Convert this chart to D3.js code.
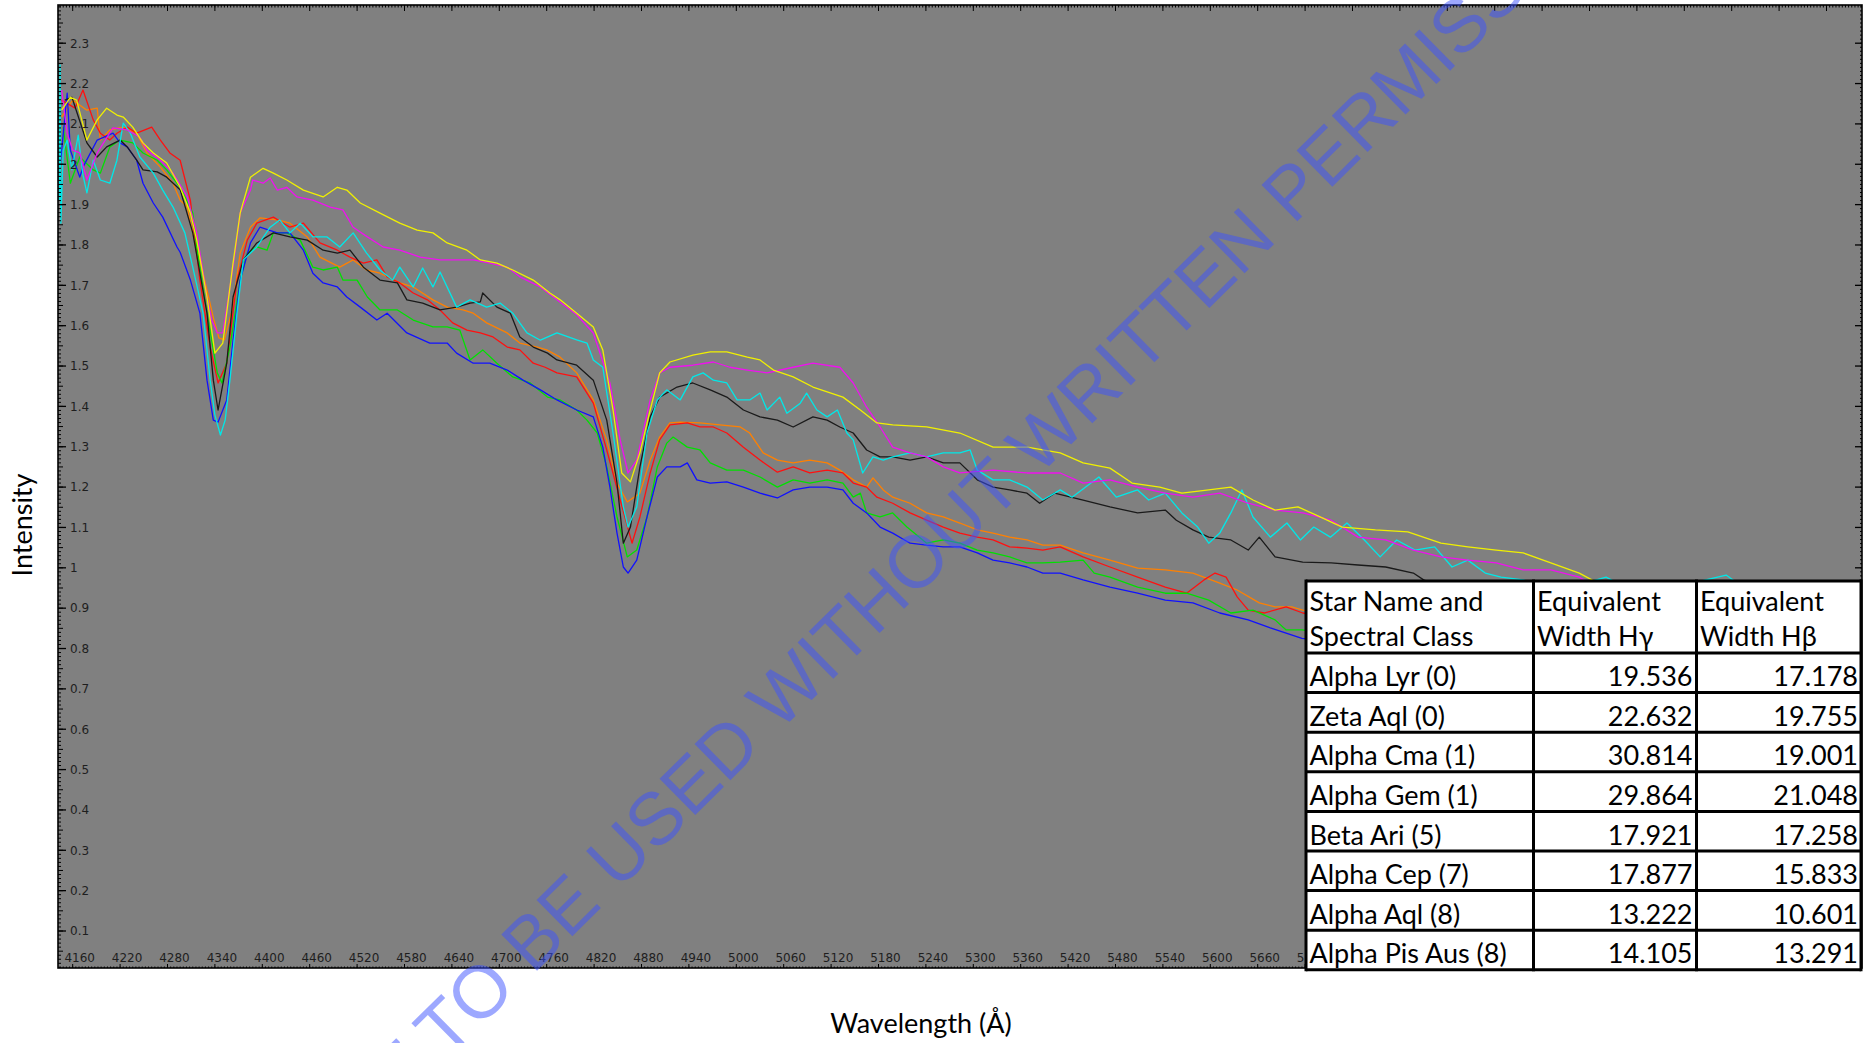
<!DOCTYPE html>
<html>
<head>
<meta charset="utf-8">
<script src="https://cdn.jsdelivr.net/npm/d3@7"></script>
<style>
  body { margin: 0; background: #fff; }
  svg { display: block; }
</style>
</head>
<body>
<script>
// spectra: [wavelength (Å), intensity]
const black = [[4150,2.159],[4159,2.166],[4178,2.053],[4191,2.018],[4203,2.043],[4220,2.060],[4229,2.043],[4241,2.010],[4249,1.986],[4267,1.981],[4279,1.968],[4296,1.937],[4312,1.830],[4330,1.631],[4338,1.465],[4344,1.391],[4355,1.507],[4363,1.671],[4376,1.763],[4393,1.805],[4414,1.830],[4435,1.820],[4457,1.812],[4477,1.787],[4495,1.780],[4511,1.787],[4528,1.745],[4549,1.713],[4571,1.706],[4583,1.664],[4603,1.656],[4625,1.639],[4646,1.646],[4663,1.656],[4676,1.659],[4679,1.681],[4697,1.646],[4714,1.631],[4726,1.572],[4743,1.547],[4761,1.532],[4773,1.515],[4798,1.502],[4819,1.465],[4836,1.366],[4849,1.210],[4857,1.061],[4866,1.101],[4878,1.250],[4891,1.374],[4903,1.423],[4925,1.448],[4945,1.458],[4967,1.441],[4988,1.423],[5009,1.391],[5030,1.374],[5052,1.366],[5072,1.349],[5097,1.374],[5115,1.366],[5131,1.349],[5148,1.334],[5165,1.292],[5182,1.275],[5198,1.275],[5220,1.267],[5241,1.275],[5262,1.260],[5283,1.260],[5305,1.218],[5325,1.200],[5346,1.193],[5368,1.185],[5384,1.160],[5403,1.185],[5439,1.168],[5473,1.151],[5508,1.136],[5543,1.143],[5557,1.118],[5578,1.094],[5598,1.076],[5626,1.069],[5648,1.044],[5662,1.076],[5682,1.027],[5717,1.014],[5753,1.012],[5787,1.007],[5822,1.002],[5857,0.987],[5870,0.970],[5890,0.955]];

const blue = [[4144,1.993],[4153,2.176],[4157,2.035],[4169,1.968],[4173,1.993],[4191,2.060],[4211,2.077],[4220,2.053],[4229,2.043],[4241,2.010],[4249,1.953],[4262,1.904],[4274,1.869],[4292,1.795],[4296,1.782],[4309,1.713],[4321,1.631],[4330,1.465],[4338,1.366],[4344,1.361],[4355,1.416],[4363,1.564],[4372,1.713],[4385,1.805],[4397,1.844],[4419,1.830],[4435,1.830],[4452,1.787],[4464,1.730],[4477,1.706],[4495,1.696],[4507,1.671],[4524,1.646],[4545,1.614],[4558,1.631],[4583,1.582],[4612,1.557],[4634,1.557],[4646,1.532],[4667,1.507],[4688,1.507],[4710,1.490],[4730,1.465],[4752,1.441],[4773,1.416],[4798,1.391],[4819,1.374],[4831,1.299],[4840,1.200],[4849,1.086],[4857,1.002],[4863,0.987],[4874,1.019],[4887,1.126],[4900,1.225],[4912,1.250],[4929,1.250],[4938,1.260],[4950,1.218],[4967,1.210],[4988,1.213],[5009,1.200],[5030,1.185],[5052,1.173],[5072,1.193],[5093,1.200],[5115,1.200],[5135,1.193],[5148,1.160],[5165,1.136],[5182,1.101],[5198,1.086],[5220,1.061],[5241,1.056],[5262,1.052],[5283,1.052],[5305,1.037],[5325,1.019],[5346,1.012],[5368,1.002],[5388,0.987],[5410,0.987],[5439,0.970],[5473,0.952],[5508,0.937],[5543,0.920],[5578,0.913],[5612,0.888],[5648,0.871],[5676,0.851],[5716,0.825],[5740,0.820]];

const red = [[4146,2.159],[4163,2.139],[4173,2.184],[4186,2.110],[4195,2.077],[4207,2.060],[4216,2.077],[4229,2.092],[4241,2.077],[4260,2.092],[4271,2.060],[4283,2.028],[4296,2.010],[4309,1.910],[4321,1.713],[4334,1.547],[4344,1.458],[4355,1.507],[4368,1.713],[4381,1.812],[4393,1.854],[4414,1.869],[4435,1.844],[4452,1.854],[4473,1.805],[4495,1.787],[4511,1.770],[4528,1.755],[4545,1.763],[4558,1.721],[4574,1.706],[4591,1.681],[4609,1.664],[4625,1.639],[4641,1.607],[4659,1.589],[4676,1.582],[4692,1.572],[4710,1.547],[4726,1.540],[4743,1.507],[4758,1.497],[4773,1.483],[4798,1.473],[4819,1.408],[4836,1.292],[4853,1.168],[4868,1.061],[4878,1.126],[4891,1.235],[4903,1.317],[4916,1.354],[4938,1.359],[4954,1.349],[4971,1.349],[4988,1.334],[5009,1.299],[5030,1.267],[5052,1.237],[5072,1.250],[5093,1.235],[5115,1.242],[5135,1.235],[5148,1.210],[5165,1.200],[5178,1.175],[5198,1.160],[5220,1.136],[5241,1.118],[5262,1.101],[5283,1.086],[5305,1.076],[5325,1.069],[5346,1.052],[5368,1.049],[5388,1.044],[5410,1.052],[5439,1.027],[5473,1.002],[5508,0.977],[5543,0.952],[5570,0.937],[5592,0.970],[5606,0.987],[5620,0.977],[5634,0.928],[5648,0.895],[5668,0.888],[5696,0.903],[5717,0.888],[5740,0.880]];

const orange = [[4146,2.117],[4160,2.159],[4178,2.134],[4191,2.139],[4195,2.060],[4207,2.085],[4224,2.092],[4241,2.077],[4254,2.028],[4271,1.993],[4287,1.953],[4296,1.911],[4305,1.894],[4312,1.830],[4321,1.763],[4330,1.688],[4338,1.620],[4345,1.570],[4352,1.565],[4362,1.640],[4372,1.780],[4385,1.844],[4397,1.867],[4419,1.862],[4435,1.854],[4457,1.820],[4473,1.770],[4498,1.745],[4515,1.763],[4532,1.738],[4549,1.730],[4574,1.706],[4591,1.696],[4616,1.664],[4634,1.646],[4654,1.639],[4667,1.631],[4684,1.607],[4710,1.582],[4726,1.557],[4748,1.547],[4760,1.540],[4777,1.522],[4798,1.483],[4819,1.416],[4836,1.317],[4849,1.210],[4862,1.163],[4878,1.185],[4891,1.267],[4903,1.324],[4916,1.359],[4929,1.361],[4954,1.359],[4979,1.354],[5005,1.349],[5017,1.334],[5034,1.285],[5052,1.267],[5072,1.260],[5093,1.267],[5115,1.260],[5131,1.242],[5148,1.218],[5165,1.200],[5173,1.223],[5186,1.193],[5198,1.175],[5220,1.160],[5241,1.136],[5262,1.126],[5283,1.111],[5305,1.094],[5325,1.086],[5346,1.076],[5368,1.069],[5388,1.056],[5410,1.056],[5439,1.037],[5473,1.019],[5508,0.999],[5543,0.995],[5578,0.987],[5612,0.962],[5634,0.945],[5662,0.913],[5682,0.903],[5703,0.903],[5717,0.895],[5740,0.888]];

const green = [[4148,2.092],[4157,1.953],[4169,2.018],[4186,1.986],[4195,1.978],[4207,2.043],[4220,2.060],[4236,2.053],[4249,2.028],[4267,2.010],[4279,1.986],[4296,1.943],[4312,1.879],[4317,1.795],[4330,1.631],[4343,1.483],[4349,1.458],[4359,1.547],[4372,1.713],[4381,1.780],[4393,1.795],[4406,1.787],[4414,1.830],[4431,1.830],[4448,1.812],[4464,1.745],[4477,1.738],[4495,1.745],[4502,1.713],[4520,1.713],[4533,1.671],[4549,1.639],[4571,1.639],[4591,1.614],[4616,1.597],[4634,1.597],[4650,1.589],[4663,1.515],[4679,1.540],[4697,1.507],[4717,1.473],[4739,1.458],[4761,1.423],[4777,1.416],[4798,1.391],[4811,1.366],[4824,1.334],[4836,1.250],[4849,1.126],[4862,1.027],[4874,1.044],[4887,1.126],[4900,1.250],[4912,1.309],[4920,1.324],[4938,1.299],[4954,1.292],[4967,1.260],[4988,1.242],[5009,1.242],[5030,1.225],[5052,1.200],[5072,1.218],[5093,1.210],[5115,1.218],[5135,1.210],[5148,1.175],[5157,1.185],[5165,1.136],[5182,1.126],[5198,1.136],[5216,1.101],[5241,1.061],[5262,1.069],[5283,1.061],[5305,1.044],[5325,1.037],[5346,1.027],[5368,1.012],[5388,1.012],[5410,1.014],[5439,1.019],[5453,0.987],[5473,0.977],[5508,0.952],[5543,0.937],[5570,0.937],[5598,0.920],[5626,0.888],[5654,0.895],[5682,0.871],[5696,0.846],[5716,0.846],[5740,0.840]];

const cyan = [[4143,1.911],[4144,2.246],[4145,1.854],[4148,2.035],[4153,2.060],[4159,1.986],[4167,2.072],[4173,1.973],[4178,1.929],[4186,2.010],[4195,1.961],[4207,1.953],[4216,2.010],[4224,2.102],[4233,2.077],[4245,2.018],[4262,1.978],[4274,1.936],[4287,1.894],[4302,1.830],[4312,1.745],[4325,1.631],[4334,1.465],[4340,1.379],[4347,1.329],[4353,1.366],[4359,1.465],[4368,1.631],[4376,1.763],[4393,1.795],[4410,1.844],[4422,1.862],[4435,1.830],[4448,1.854],[4464,1.820],[4482,1.820],[4498,1.795],[4515,1.830],[4532,1.780],[4549,1.738],[4565,1.713],[4574,1.745],[4591,1.696],[4603,1.743],[4616,1.696],[4625,1.733],[4646,1.646],[4663,1.664],[4684,1.646],[4701,1.656],[4717,1.631],[4735,1.582],[4752,1.564],[4773,1.582],[4798,1.565],[4811,1.557],[4819,1.515],[4831,1.497],[4844,1.334],[4857,1.151],[4863,1.101],[4874,1.151],[4887,1.334],[4900,1.416],[4912,1.441],[4929,1.416],[4945,1.473],[4958,1.483],[4971,1.465],[4988,1.458],[5001,1.416],[5017,1.416],[5030,1.433],[5039,1.391],[5055,1.423],[5064,1.383],[5081,1.408],[5089,1.433],[5102,1.391],[5115,1.374],[5128,1.391],[5140,1.334],[5148,1.317],[5160,1.235],[5173,1.275],[5186,1.267],[5198,1.275],[5220,1.285],[5241,1.275],[5262,1.285],[5283,1.285],[5296,1.292],[5305,1.242],[5325,1.218],[5346,1.218],[5368,1.200],[5388,1.168],[5410,1.193],[5425,1.175],[5459,1.225],[5481,1.175],[5508,1.193],[5522,1.168],[5543,1.185],[5564,1.136],[5584,1.101],[5598,1.061],[5612,1.086],[5626,1.136],[5640,1.193],[5654,1.126],[5676,1.076],[5697,1.111],[5714,1.069],[5731,1.101],[5752,1.076],[5773,1.111],[5795,1.069],[5815,1.027],[5836,1.069],[5859,1.044],[5884,1.052],[5906,1.002],[5926,1.019],[5948,0.987],[5968,0.977],[5996,0.970],[6043,0.945],[6101,0.977],[6144,0.932],[6253,0.982],[6296,0.920]];

const magenta = [[4146,2.184],[4153,2.077],[4160,2.035],[4169,2.028],[4178,1.961],[4191,2.028],[4211,2.090],[4229,2.085],[4245,2.067],[4254,2.035],[4271,2.010],[4287,1.978],[4305,1.919],[4317,1.830],[4330,1.671],[4336,1.614],[4343,1.582],[4350,1.582],[4363,1.745],[4372,1.879],[4385,1.936],[4388,1.961],[4401,1.953],[4410,1.966],[4419,1.936],[4431,1.943],[4444,1.919],[4464,1.911],[4486,1.894],[4502,1.887],[4515,1.844],[4533,1.820],[4553,1.795],[4574,1.787],[4600,1.770],[4625,1.763],[4646,1.763],[4667,1.763],[4688,1.755],[4710,1.745],[4726,1.721],[4752,1.696],[4773,1.664],[4798,1.627],[4819,1.582],[4840,1.458],[4853,1.317],[4863,1.235],[4874,1.267],[4891,1.416],[4903,1.483],[4916,1.497],[4945,1.502],[4971,1.510],[4992,1.497],[5014,1.490],[5039,1.483],[5072,1.497],[5097,1.507],[5131,1.497],[5148,1.458],[5165,1.398],[5182,1.349],[5198,1.299],[5220,1.285],[5241,1.275],[5262,1.250],[5283,1.235],[5325,1.242],[5368,1.235],[5410,1.235],[5439,1.210],[5473,1.218],[5508,1.200],[5543,1.185],[5578,1.175],[5612,1.185],[5648,1.160],[5682,1.143],[5717,1.136],[5753,1.118],[5787,1.076],[5822,1.069],[5857,1.044],[5892,1.027],[5926,1.019],[5962,1.012],[5996,0.995],[6031,0.995],[6067,0.977],[6093,0.945]];

const yellow = [[4146,2.134],[4157,2.166],[4165,2.159],[4178,2.060],[4191,2.110],[4203,2.139],[4216,2.122],[4224,2.117],[4236,2.092],[4249,2.053],[4262,2.028],[4279,2.003],[4296,1.943],[4309,1.879],[4317,1.812],[4330,1.671],[4340,1.532],[4350,1.557],[4363,1.755],[4372,1.879],[4385,1.968],[4401,1.990],[4414,1.978],[4431,1.961],[4452,1.936],[4477,1.919],[4495,1.943],[4507,1.936],[4524,1.904],[4549,1.879],[4574,1.854],[4596,1.837],[4616,1.830],[4634,1.805],[4659,1.787],[4676,1.763],[4697,1.755],[4717,1.738],[4743,1.713],[4764,1.681],[4777,1.664],[4798,1.631],[4819,1.597],[4831,1.540],[4844,1.391],[4855,1.235],[4866,1.213],[4878,1.285],[4891,1.391],[4903,1.483],[4916,1.510],[4945,1.527],[4967,1.535],[4988,1.535],[5014,1.522],[5030,1.515],[5047,1.490],[5072,1.473],[5097,1.448],[5135,1.423],[5157,1.391],[5178,1.359],[5198,1.354],[5241,1.349],[5283,1.334],[5325,1.299],[5368,1.299],[5410,1.285],[5439,1.260],[5473,1.247],[5501,1.210],[5536,1.200],[5564,1.185],[5598,1.193],[5626,1.200],[5654,1.168],[5682,1.143],[5711,1.151],[5739,1.126],[5767,1.101],[5809,1.094],[5850,1.089],[5892,1.061],[5926,1.052],[5962,1.044],[5996,1.037],[6031,1.012],[6067,0.987],[6083,0.970],[6112,0.945]];

const spectra = [orange, red, green, blue, black, cyan, magenta, yellow];
const spectraColors = ["#ff8000", "#ff1010", "#00e000", "#1010ff", "#1a1a1a", "#00e8e8", "#f010f0", "#f0f000"];

// axis ticks
const xTicks = [4160,4220,4280,4340,4400,4460,4520,4580,4640,4700,4760,4820,4880,4940,5000,5060,5120,5180,5240,5300,5360,5420,5480,5540,5600,5660,5720];
const yTicks = [0.1,0.2,0.3,0.4,0.5,0.6,0.7,0.8,0.9,1,1.1,1.2,1.3,1.4,1.5,1.6,1.7,1.8,1.9,2,2.1,2.2,2.3];

// table
const starNames = ["Alpha Lyr (0)", "Zeta Aql (0)", "Alpha Cma (1)", "Alpha Gem (1)", "Beta Ari (5)", "Alpha Cep (7)", "Alpha Aql (8)", "Alpha Pis Aus (8)"];
const widthHgamma = [19.536, 22.632, 30.814, 29.864, 17.921, 17.877, 13.222, 14.105];
const widthHbeta = [17.178, 19.755, 19.001, 21.048, 17.258, 15.833, 10.601, 13.291];

const W = 1864, H = 1043;
const plot = { left: 58, top: 5, right: 1862, bottom: 968 };

const svg = d3.select("body").append("svg")
    .attr("width", W)
    .attr("height", H)
    .style("background", "#fff");

const x = d3.scaleLinear().domain([4160, 5660]).range([72.7, 1257.7]);
const y = d3.scaleLinear().domain([0.1, 2.3]).range([931, 43.2]);

// grey plot panel
svg.append("rect")
    .attr("x", plot.left).attr("y", plot.top)
    .attr("width", plot.right - plot.left).attr("height", plot.bottom - plot.top)
    .attr("fill", "#808080");

svg.append("clipPath").attr("id", "clip")
  .append("rect")
    .attr("x", plot.left).attr("y", plot.top)
    .attr("width", plot.right - plot.left).attr("height", plot.bottom - plot.top);

// spectra
const line = d3.line().x(d => x(d[0])).y(d => y(d[1]));
svg.append("g").attr("clip-path", "url(#clip)")
  .selectAll("path")
  .data(spectra)
  .enter()
  .append("path")
    .attr("d", line)
    .attr("fill", "none")
    .attr("stroke", (d, i) => spectraColors[i])
    .attr("stroke-width", 1.3)
    .attr("stroke-linejoin", "round");

// frame and ticks
const frame = svg.append("g").attr("stroke", "#000");
const lambdaMin = x.invert(plot.left), lambdaMax = x.invert(plot.right);
const xMinor = d3.range(Math.ceil(lambdaMin / 4) * 4, lambdaMax, 4);
const xMajor = d3.range(4160 - 60, lambdaMax, 60).filter(v => v > lambdaMin);
const yMinor = d3.range(1, 240).map(i => i / 100);

// top edge
frame.selectAll(".tmin").data(xMinor).enter().append("line")
    .attr("x1", d => x(d)).attr("x2", d => x(d))
    .attr("y1", plot.top).attr("y2", plot.top + 2.5).attr("stroke-width", 1);
frame.selectAll(".tmaj").data(xMajor).enter().append("line")
    .attr("x1", d => x(d)).attr("x2", d => x(d))
    .attr("y1", plot.top).attr("y2", plot.top + 6).attr("stroke-width", 1);
// bottom edge
frame.selectAll(".bmin").data(xMinor).enter().append("line")
    .attr("x1", d => x(d)).attr("x2", d => x(d))
    .attr("y1", plot.bottom).attr("y2", plot.bottom - 1.5).attr("stroke-width", 1);
frame.selectAll(".bmaj").data(xMajor).enter().append("line")
    .attr("x1", d => x(d)).attr("x2", d => x(d))
    .attr("y1", plot.bottom).attr("y2", plot.bottom - 4).attr("stroke-width", 1);
// left edge
frame.selectAll(".lmin").data(yMinor).enter().append("line")
    .attr("x1", plot.left).attr("x2", d => plot.left + (Math.round(d * 100) % 5 === 0 ? 5 : 3))
    .attr("y1", d => y(d)).attr("y2", d => y(d)).attr("stroke-width", 1);
frame.selectAll(".lmaj").data(yTicks).enter().append("line")
    .attr("x1", plot.left).attr("x2", plot.left + 8)
    .attr("y1", d => y(d)).attr("y2", d => y(d)).attr("stroke-width", 1.3);
// right edge
frame.selectAll(".rmin").data(yMinor).enter().append("line")
    .attr("x1", plot.right).attr("x2", plot.right - 2)
    .attr("y1", d => y(d)).attr("y2", d => y(d)).attr("stroke-width", 1);
frame.selectAll(".rmaj").data(yTicks).enter().append("line")
    .attr("x1", plot.right).attr("x2", plot.right - 7)
    .attr("y1", d => y(d)).attr("y2", d => y(d)).attr("stroke-width", 1.3);

frame.append("rect")
    .attr("x", plot.left).attr("y", plot.top)
    .attr("width", plot.right - plot.left).attr("height", plot.bottom - plot.top)
    .attr("fill", "none").attr("stroke-width", 1.6);

// tick labels
svg.append("g").selectAll("text").data(yTicks).enter().append("text")
    .attr("x", 70).attr("y", d => y(d)).attr("dy", "0.36em")
    .attr("font-family", "DejaVu Sans").attr("font-size", 12).attr("fill", "#1e1e1e")
    .text(d => d3.format("~g")(d));

// the last label runs under the table, as in the picture
svg.append("g").selectAll("text").data(xTicks).enter().append("text")
    .attr("x", d => x(d) + 7).attr("y", 962)
    .attr("text-anchor", "middle")
    .attr("font-family", "DejaVu Sans").attr("font-size", 12).attr("fill", "#1e1e1e")
    .text(d => d);

// axis titles
svg.append("text")
    .attr("transform", "translate(32,525) rotate(-90)")
    .attr("text-anchor", "middle")
    .attr("font-family", "Lato").attr("font-size", 27)
    .text("Intensity");

svg.append("text")
    .attr("x", 921).attr("y", 1033)
    .attr("text-anchor", "middle")
    .attr("font-family", "Lato").attr("font-size", 27)
    .text("Wavelength (Å)");

// watermark, runs off the page like the original
svg.append("text")
    .attr("transform", "translate(322,1183) rotate(-44.6)")
    .attr("font-family", "Liberation Sans").attr("font-size", 74)
    .attr("fill", "rgb(60,82,255)").attr("fill-opacity", 0.5)
    .text("NOT TO BE USED WITHOUT WRITTEN PERMISSION");

// equivalent width table
const colEdges = [1306, 1533.5, 1696.5, 1861];
const tableTop = 581, headerH = 72, rowH = 39.6;
const rowTops = starNames.map((d, i) => tableTop + headerH + i * rowH);
const tableBottom = tableTop + headerH + starNames.length * rowH;

const table = svg.append("g").attr("font-family", "Lato").attr("font-size", 27).attr("fill", "#000");
table.append("rect")
    .attr("x", colEdges[0]).attr("y", tableTop)
    .attr("width", colEdges[3] - colEdges[0]).attr("height", tableBottom - tableTop)
    .attr("fill", "#fff");

const headers = [["Star Name and", "Spectral Class"], ["Equivalent", "Width Hγ"], ["Equivalent", "Width Hβ"]];
headers.forEach((lines, c) => {
    lines.forEach((t, k) => {
        table.append("text")
            .attr("x", colEdges[c] + 3.5)
            .attr("y", tableTop + 29.5 + k * 35)
            .text(t);
    });
});

const rows = table.selectAll(".row").data(starNames).enter().append("g");
rows.append("text")
    .attr("x", colEdges[0] + 3.5).attr("y", (d, i) => rowTops[i] + rowH - 6.5)
    .text(d => d);
rows.append("text")
    .attr("x", colEdges[2] - 4).attr("y", (d, i) => rowTops[i] + rowH - 6.5)
    .attr("text-anchor", "end")
    .text((d, i) => d3.format(".3f")(widthHgamma[i]));
rows.append("text")
    .attr("x", colEdges[3] - 3).attr("y", (d, i) => rowTops[i] + rowH - 6.5)
    .attr("text-anchor", "end")
    .text((d, i) => d3.format(".3f")(widthHbeta[i]));

const grid = table.append("g").attr("stroke", "#000").attr("stroke-width", 3);
[tableTop, ...rowTops, tableBottom].forEach(yy => {
    grid.append("line").attr("x1", colEdges[0]).attr("x2", colEdges[3]).attr("y1", yy).attr("y2", yy);
});
colEdges.forEach(xx => {
    grid.append("line").attr("x1", xx).attr("x2", xx).attr("y1", tableTop - 1.5).attr("y2", tableBottom + 1.5);
});
</script>
</body>
</html>
